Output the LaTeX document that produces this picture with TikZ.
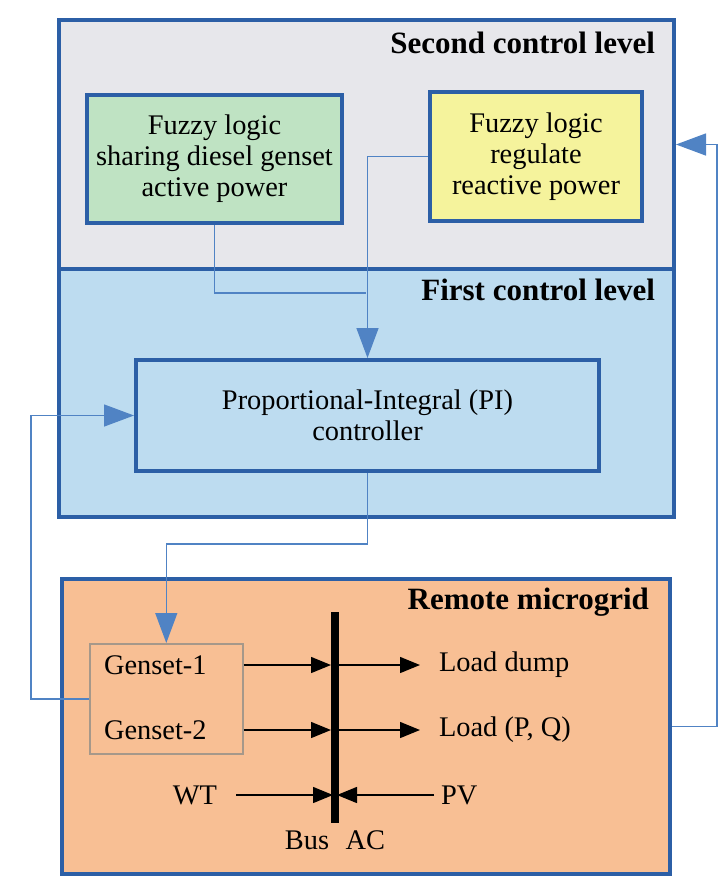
\documentclass[tikz,border=0pt]{standalone}
\usepackage{fontspec}
\setmainfont{Liberation Serif}
\usetikzlibrary{arrows.meta}
\definecolor{frameblue}{HTML}{2C5FA6}
\definecolor{wireblue}{HTML}{5083C4}
\definecolor{levelgrey}{HTML}{E7E7EB}
\definecolor{levelblue}{HTML}{BDDCF0}
\definecolor{fuzzygreen}{HTML}{BFE3C3}
\definecolor{fuzzyyellow}{HTML}{F5F39C}
\definecolor{gridorange}{HTML}{F8BF94}
\definecolor{gensetedge}{HTML}{A6988A}
\tikzset{
  level/.style={draw=frameblue, line width=2pt, anchor=north west, inner sep=0pt},
  block/.style={draw=frameblue, line width=2pt, anchor=north west, align=center,
    font=\fontsize{14.2}{15.5}\selectfont},
  title/.style={anchor=east, font=\fontsize{15.5}{17}\selectfont\bfseries},
  label/.style={font=\fontsize{14.2}{15.5}\selectfont},
  wire/.style={draw=wireblue, line width=0.7pt},
  ctrl/.style={wire, -{Triangle[length=15pt,width=11pt]}},
  power/.style={draw=black, line width=0.7pt, -{Triangle[length=10pt,width=8pt]}},
}
\begin{document}
\begin{tikzpicture}[x=0.5pt, y=-0.5pt]
    \useasboundingbox (0,0) rectangle (722,890);
    % control levels
    \node [level, fill=levelgrey, minimum width=307.5pt, minimum height=124.5pt] (second) at (57,18) {};
    \node [level, fill=levelblue, minimum width=307.5pt, minimum height=124pt] (first) at (57,267) {};
    \node [level, fill=gridorange, minimum width=304pt, minimum height=147.5pt] (micro) at (60,577) {};
    \node [title] (t2) at (662,43) {Second control level};
    \node [title] (t1) at (662,290) {First control level};
    \node [title] (t0) at (656,602) {Remote microgrid};
    % blocks
    \node [block, fill=fuzzygreen, minimum width=127.5pt, minimum height=64pt] (green) at (85,93)
      {Fuzzy logic\\sharing diesel genset\\active power};
    \node [block, fill=fuzzyyellow, minimum width=106pt, minimum height=64.5pt] (yellow) at (428,90)
      {Fuzzy logic\\regulate\\reactive power};
    \node [block, minimum width=231.5pt, minimum height=55.5pt] (pi) at (134,358)
      {Proportional-Integral (PI)\\controller};
    \node [level, draw=gensetedge, line width=0.8pt, minimum width=76.5pt, minimum height=55pt] (gen) at (89,643) {};
    \node [label, anchor=west] (g1) at (97,665) {Genset-1};
    \node [label, anchor=west] (g2) at (97,730) {Genset-2};
    \node [label, anchor=west] (dump) at (432,665) {Load dump};
    \node [label, anchor=west] (load) at (432,730) {Load (P, Q)};
    \node [label, anchor=east] (wt) at (224,795) {WT};
    \node [label, anchor=west] (pv) at (434,795) {PV};
    \node [label] (bus) at (335,840) {Bus\,\, AC};
    \coordinate (busT) at (335,612);
    \coordinate (busB) at (335,823);
    \coordinate (merge) at (365.5,293);
    \coordinate (rail) at (717,0);
    % control wiring
    \draw [wire] (green.south) |- (merge);
    \draw [ctrl] (yellow.west) -| (pi.north);
    \draw [ctrl] (pi.south) -- ++(0,71) -| (gen.north);
    \draw [ctrl] (gen.west) -- ++(-58,0) |- (pi.west);
    \draw [ctrl] (micro.east) -- (micro.east -| rail) |- (second.east);
    % bus and power flows
    \draw [power, shorten >=2pt] (gen.east |- g1) -- (busT |- g1);
    \draw [power, shorten >=2pt] (gen.east |- g2) -- (busT |- g2);
    \draw [power] (busT |- g1) -- ([xshift=-6pt]dump.west);
    \draw [power] (busT |- g2) -- ([xshift=-6pt]load.west);
    \draw [power, shorten >=1pt] ([xshift=6pt]wt.east) -- (busT |- wt);
    \draw [power, shorten >=1pt] (pv.west) -- (busT |- pv);
    \draw [line width=4pt] (busT) -- (busB);
\end{tikzpicture}
\end{document}
